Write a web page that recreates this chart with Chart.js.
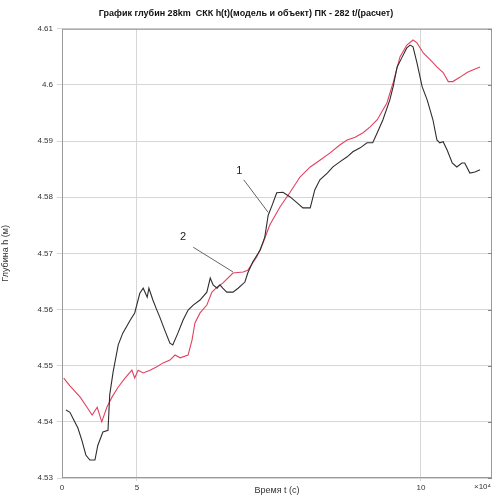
<!DOCTYPE html>
<html>
<head>
<meta charset="utf-8">
<script src="https://cdn.jsdelivr.net/npm/chart.js@4/dist/chart.umd.min.js"></script>
<style>
	html, body { margin: 0; padding: 0; background: #fff; }
	#wrap { width: 496px; height: 498px; }
</style>
</head>
<body>
<div id="wrap"><canvas id="depth-canvas" width="496" height="498"></canvas></div>
<script>
const TITLE = "График глубин 28km  СКК h(t)(модель и объект) ПК - 282 t/(расчет)";
const X_TITLE = "Время t (с)";
const Y_TITLE = "Глубина h (м)";
const X_EXPONENT = "\u00d710\u2074";
const X_MIN = 3.68;
const X_MAX = 11.25;
const X_TICKS = [5, 10];
const X_EDGE_LABEL = "0";
const Y_TICKS = [4.53, 4.54, 4.55, 4.56, 4.57, 4.58, 4.59, 4.6, 4.61];

// curve 1 (object), black
const T1 = [
	3.75, 3.82, 3.89, 3.96, 4.03, 4.10, 4.17, 4.26, 4.31, 4.40, 4.49, 4.52,
	4.58, 4.67, 4.75, 4.88, 4.96, 5.05, 5.11, 5.18, 5.21, 5.28, 5.35, 5.40,
	5.49, 5.58, 5.63, 5.72, 5.81, 5.90, 5.99, 6.11, 6.23, 6.29, 6.34, 6.41,
	6.46, 6.51, 6.58, 6.69, 6.78, 6.90, 6.95, 7.04, 7.17, 7.25, 7.31, 7.38,
	7.46, 7.57, 7.69, 7.82, 7.92, 8.05, 8.13, 8.22, 8.35, 8.45, 8.57, 8.70,
	8.80, 8.93, 9.05, 9.15, 9.23, 9.33, 9.45, 9.51, 9.58, 9.67, 9.75, 9.81,
	9.86, 9.93, 10.02, 10.11, 10.21, 10.28, 10.33, 10.39, 10.46, 10.55, 10.63, 10.72,
	10.77, 10.86, 10.95, 11.04,
];
const H1 = [
	4.5421, 4.5417, 4.5403, 4.5389, 4.5367, 4.5341, 4.5332, 4.5332, 4.5358, 4.5382, 4.5385, 4.5448,
	4.5489, 4.5537, 4.5558, 4.5581, 4.5594, 4.5629, 4.5638, 4.5622, 4.5638, 4.5617, 4.5599, 4.5587,
	4.5563, 4.5540, 4.5537, 4.5558, 4.5581, 4.5599, 4.5608, 4.5617, 4.5631, 4.5656, 4.5644, 4.5638,
	4.5644, 4.5638, 4.5631, 4.5631, 4.5638, 4.5649, 4.5665, 4.5685, 4.5706, 4.5729, 4.5768, 4.5786,
	4.5808, 4.5809, 4.5801, 4.5790, 4.5781, 4.5781, 4.5813, 4.5831, 4.5843, 4.5854, 4.5863, 4.5872,
	4.5881, 4.5888, 4.5897, 4.5897, 4.5915, 4.5938, 4.5973, 4.5997, 4.6032, 4.6050, 4.6066, 4.6071,
	4.6068, 4.6039, 4.5997, 4.5973, 4.5938, 4.5902, 4.5897, 4.5899, 4.5884, 4.5861, 4.5854, 4.5861,
	4.5861, 4.5843, 4.5845, 4.5849,
];

// curve 2 (model), red
const T2 = [
	3.71, 3.82, 4.00, 4.12, 4.21, 4.30, 4.38, 4.47, 4.56, 4.67, 4.79, 4.91,
	4.96, 5.02, 5.11, 5.23, 5.35, 5.46, 5.58, 5.67, 5.76, 5.90, 5.97, 6.02,
	6.11, 6.23, 6.32, 6.41, 6.51, 6.69, 6.87, 6.95, 7.11, 7.22, 7.34, 7.52,
	7.69, 7.87, 8.05, 8.22, 8.40, 8.57, 8.70, 8.84, 8.98, 9.10, 9.23, 9.40,
	9.51, 9.63, 9.75, 9.86, 9.93, 10.04, 10.16, 10.28, 10.39, 10.48, 10.56, 10.69,
	10.81, 10.92, 11.04,
];
const H2 = [
	4.5478, 4.5464, 4.5444, 4.5426, 4.5412, 4.5426, 4.5400, 4.5426, 4.5444, 4.5462, 4.5478, 4.5492,
	4.5478, 4.5492, 4.5487, 4.5492, 4.5498, 4.5505, 4.5510, 4.5519, 4.5514, 4.5519, 4.5546, 4.5576,
	4.5594, 4.5608, 4.5631, 4.5640, 4.5647, 4.5665, 4.5667, 4.5670, 4.5694, 4.5719, 4.5751, 4.5783,
	4.5808, 4.5836, 4.5854, 4.5866, 4.5879, 4.5893, 4.5902, 4.5907, 4.5915, 4.5925, 4.5938, 4.5968,
	4.6004, 4.6050, 4.6071, 4.6080, 4.6075, 4.6057, 4.6045, 4.6032, 4.6022, 4.6006, 4.6006, 4.6014,
	4.6022, 4.6027, 4.6032,
];

// callout labels "1" and "2": text position and leader line in data units
const CALLOUTS = [
	{ text: "1", at: [6.80, 4.5847], from: [6.88, 4.5831], to: [7.31, 4.5773] },
	{ text: "2", at: [5.81, 4.5729], from: [5.99, 4.5711], to: [6.69, 4.5667] },
];

const FONT = "'Liberation Sans', Arial, sans-serif";
const GRID_COLOR = "#d6d6d6";
const TICK_COLOR = "#333";

const toPoints = (xs, ys) => xs.map((x, i) => ({ x: x, y: ys[i] }));

const frameAndNotes = {
	id: "frameAndNotes",
	afterDatasetsDraw: (chart) => {
		var ctx = chart.ctx;
		var area = chart.chartArea;
		var xs = chart.scales.x;
		var ys = chart.scales.y;
		ctx.save();
		ctx.strokeStyle = "#9a9a9a";
		ctx.lineWidth = 1;
		ctx.strokeRect(area.left + 0.5, area.top + 0.5, area.right - area.left - 1, area.bottom - area.top - 1);

		// small ticks on the right edge
		ctx.strokeStyle = "#888";
		for (var v of Y_TICKS) {
			var py = Math.round(ys.getPixelForValue(v)) + 0.5;
			ctx.beginPath();
			ctx.moveTo(area.right - 4, py);
			ctx.lineTo(area.right, py);
			ctx.stroke();
		}

		ctx.strokeStyle = "#666";
		ctx.fillStyle = "#222";
		ctx.font = "11px " + FONT;
		ctx.textAlign = "center";
		ctx.textBaseline = "middle";
		for (var c of CALLOUTS) {
			ctx.beginPath();
			ctx.moveTo(xs.getPixelForValue(c.from[0]), ys.getPixelForValue(c.from[1]));
			ctx.lineTo(xs.getPixelForValue(c.to[0]), ys.getPixelForValue(c.to[1]));
			ctx.stroke();
			ctx.fillText(c.text, xs.getPixelForValue(c.at[0]), ys.getPixelForValue(c.at[1]));
		}

		// exponent of the time axis
		ctx.font = "8px " + FONT;
		ctx.fillStyle = TICK_COLOR;
		ctx.textAlign = "left";
		ctx.fillText(X_EXPONENT, area.right - 18, area.bottom + 9);
		ctx.restore();
	},
};

const config = {
	type: "line",
	data: {
		datasets: [
			{
				label: "1",
				data: toPoints(T1, H1),
				borderColor: "#2e2e2e",
				borderWidth: 1.1,
				pointRadius: 0,
				tension: 0,
			},
			{
				label: "2",
				data: toPoints(T2, H2),
				borderColor: "#e2415f",
				borderWidth: 1.1,
				pointRadius: 0,
				tension: 0,
			},
		],
	},
	plugins: [frameAndNotes],
	options: {
		responsive: false,
		animation: false,
		layout: { padding: { left: 0, right: 4, top: 0, bottom: 0 } },
		plugins: {
			legend: { display: false },
			tooltip: { enabled: false },
			title: {
				display: true,
				text: TITLE,
				color: "#111",
				font: { family: FONT, size: 9, weight: "bold", lineHeight: 1.2 },
				padding: { top: 8, bottom: 10 },
			},
		},
		scales: {
			x: {
				type: "linear",
				min: X_MIN,
				max: X_MAX,
				afterBuildTicks: (scale) => {
					scale.ticks = [{ value: X_MIN }].concat(X_TICKS.map((v) => ({ value: v })));
				},
				afterFit: (scale) => {
					scale.height = 20;
				},
				ticks: {
					color: TICK_COLOR,
					font: { family: FONT, size: 8 },
					padding: 2,
					maxRotation: 0,
					callback: (value) => (value === X_MIN ? X_EDGE_LABEL : value),
				},
				grid: {
					color: (ctx) => (ctx.tick && ctx.tick.value === X_MIN ? "rgba(0,0,0,0)" : GRID_COLOR),
					tickLength: 3,
				},
				border: { display: false },
				title: {
					display: true,
					text: X_TITLE,
					color: TICK_COLOR,
					font: { family: FONT, size: 9 },
					padding: { top: 0, bottom: 2 },
				},
			},
			y: {
				min: 4.53,
				max: 4.61,
				afterBuildTicks: (scale) => {
					scale.ticks = Y_TICKS.map((v) => ({ value: v }));
				},
				afterFit: (scale) => {
					scale.width = 62;
				},
				ticks: {
					color: TICK_COLOR,
					font: { family: FONT, size: 8 },
					padding: 4,
					callback: (value) => String(Math.round(value * 100) / 100),
				},
				grid: { color: GRID_COLOR, tickLength: 5 },
				border: { display: false },
				title: {
					display: true,
					text: Y_TITLE,
					color: TICK_COLOR,
					font: { family: FONT, size: 9 },
					padding: { top: 0, bottom: 0 },
				},
			},
		},
	},
};

new Chart(document.getElementById("depth-canvas"), config);
</script>
</body>
</html>
